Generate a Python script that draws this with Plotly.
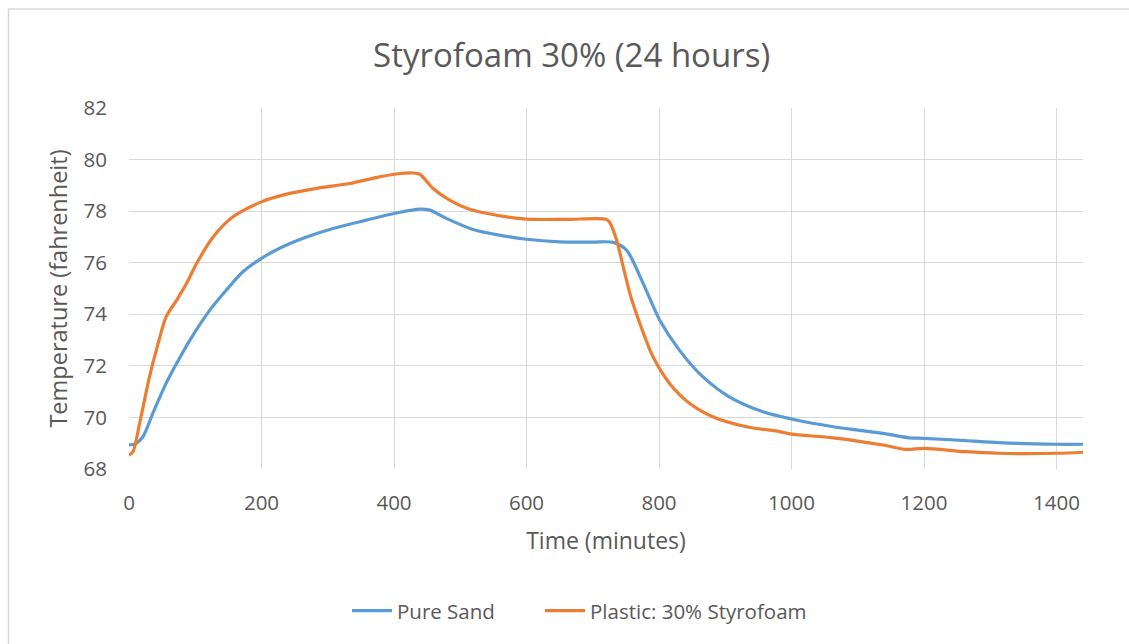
import plotly.graph_objects as go

# Pure sand temperature log (minutes, °F)
sand_time = [0, 10, 21, 36, 56, 72, 92, 122, 147, 172, 200, 232, 268, 308, 358, 400,
             439, 454, 479, 519, 559, 600, 650, 700, 731, 751, 776, 801, 831, 866, 906,
             957, 1000, 1063, 1138, 1178, 1200, 1263, 1313, 1400, 1440]
sand_temp = [68.93, 68.98, 69.25, 70.16, 71.32, 72.10, 73.0, 74.16, 74.94, 75.65, 76.17,
             76.62, 77.0, 77.33, 77.65, 77.91, 78.08, 78.04, 77.72, 77.29, 77.07, 76.91,
             76.81, 76.80, 76.79, 76.49, 75.2, 73.78, 72.6, 71.58, 70.8, 70.22, 69.94,
             69.64, 69.38, 69.21, 69.19, 69.1, 69.02, 68.96, 68.96]

# Sand mixed with 30% styrofoam
foam_time = [0, 6, 16, 31, 44, 56, 72, 87, 102, 127, 157, 200, 232, 283, 333, 378, 409,
             429, 439, 459, 484, 514, 555, 600, 660, 720, 725, 736, 746, 756, 771, 791,
             816, 846, 881, 932, 982, 1000, 1063, 1138, 1173, 1200, 1263, 1313, 1400, 1440]
foam_temp = [68.54, 68.67, 69.77, 71.58, 72.87, 73.9, 74.55, 75.2, 75.97, 77.0, 77.78,
             78.36, 78.62, 78.88, 79.07, 79.33, 79.46, 79.48, 79.43, 78.88, 78.43, 78.07,
             77.84, 77.69, 77.68, 77.69, 77.59, 76.88, 75.84, 74.81, 73.65, 72.35, 71.32,
             70.55, 70.03, 69.64, 69.45, 69.35, 69.21, 68.93, 68.76, 68.8, 68.67, 68.61,
             68.61, 68.65]

x_ticks = [0, 200, 400, 600, 800, 1000, 1200, 1400]
y_ticks = [68, 70, 72, 74, 76, 78, 80, 82]

FONT = "Open Sans"
TEXT = "#595959"
GRID = "#d9d9d9"

fig = go.Figure()
fig.add_trace(go.Scatter(
    x=sand_time, y=sand_temp, mode="lines", name="Pure Sand", legend="legend",
    line=dict(color="#5B9BD5", width=3.2, shape="spline", smoothing=0.8),
))
fig.add_trace(go.Scatter(
    x=foam_time, y=foam_temp, mode="lines", name="Plastic: 30% Styrofoam", legend="legend2",
    line=dict(color="#ED7D31", width=3.2, shape="spline", smoothing=0.8),
))

legend_style = dict(orientation="h", yanchor="middle", y=-0.393, xanchor="left",
                    font=dict(size=20.5, color=TEXT), itemwidth=40,
                    bgcolor="rgba(0,0,0,0)")

fig.update_layout(
    width=1129, height=644,
    margin=dict(l=129, r=46, t=108, b=175),
    paper_bgcolor="white", plot_bgcolor="white",
    font=dict(family=FONT, color=TEXT),
    title=dict(text="Styrofoam 30% (24 hours)", x=0.464, xref="paper",
               y=1 - 55 / 644, yref="container", xanchor="center", yanchor="middle",
               font=dict(size=33, color=TEXT, family=FONT)),
    xaxis=dict(range=[0, 1440], tickvals=x_ticks, showgrid=True, gridcolor=GRID,
               gridwidth=1, zeroline=False, showline=False,
               tickfont=dict(size=20.5, color=TEXT), ticklabelstandoff=19,
               title=dict(text="Time (minutes)", font=dict(size=23, color=TEXT),
                          standoff=18)),
    yaxis=dict(range=[68, 82], tickvals=y_ticks, showgrid=True, gridcolor=GRID,
               gridwidth=1, zeroline=False, showline=False,
               tickfont=dict(size=20.5, color=TEXT), ticklabelstandoff=21,
               title=dict(text="Temperature (fahrenheit)", font=dict(size=23.5, color=TEXT),
                          standoff=9)),
    legend=dict(legend_style, x=(347 - 129) / 954),
    legend2=dict(legend_style, x=(540 - 129) / 954),
    showlegend=True,
    shapes=[dict(type="rect", xref="paper", yref="paper",
                 x0=-0.1263, x1=2, y0=-2, y1=1.2742,
                 line=dict(color=GRID, width=1.5), fillcolor="rgba(0,0,0,0)", layer="below")],
)

fig.write_html("out.html")
